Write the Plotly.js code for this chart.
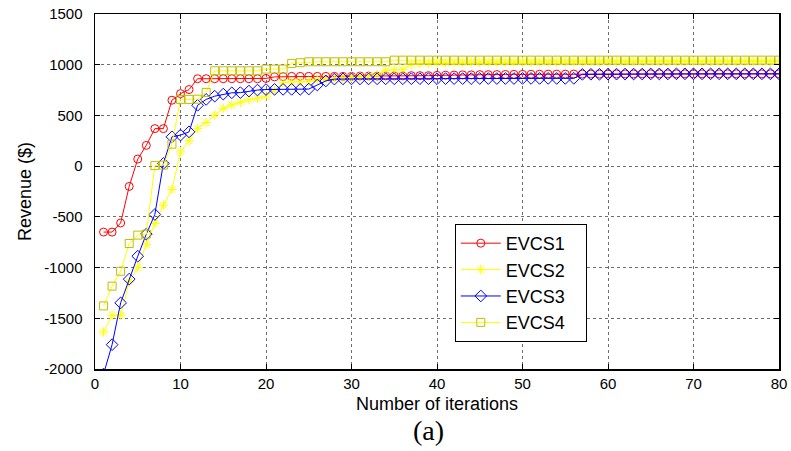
<!DOCTYPE html>
<html>
<head>
<meta charset="utf-8">
<script src="https://cdn.plot.ly/plotly-3.0.1.min.js"></script>
<style>
  html, body { margin: 0; padding: 0; background: #fff; }
  #chart { width: 791px; height: 451px; }
</style>
</head>
<body>
<div id="chart"></div>
<script>
// Revenue of each charging station over the iterations
const iterations = Array.from({length: 80}, (_, i) => i + 1);

const evcs1 = [-650,-650,-560,-200,70,205,370,370,650,715,755,862,862,862,862,862,862,862,862,865,
  880,882,885,885,885,885,885,885,885,885,888,888,888,890,890,890,892,892,892,895,
  897,898,900,900,902,902,903,904,905,905,906,906,907,907,907,908,908,908,908,909,
  909,909,909,910,910,910,910,910,910,910,910,910,910,910,910,910,910,910,910,910];

const evcs2 = [-1635,-1470,-1470,-1140,-1000,-770,-565,-385,-230,140,250,372,430,503,570,605,630,655,670,690,
  750,825,830,830,835,850,860,865,870,875,880,885,900,945,950,950,1005,1010,1015,1020,
  1020,1022,1022,1024,1024,1025,1025,1025,1026,1026,1026,1027,1027,1027,1028,1028,1028,1028,1029,1029,
  1029,1029,1029,1030,1030,1030,1030,1030,1030,1030,1030,1030,1030,1030,1030,1030,1030,1030,1030,1030];

const evcs3 = [-2050,-1760,-1348,-1114,-888,-670,-477,27,289,306,338,600,658,690,710,723,725,740,750,755,
  757,757,757,757,760,800,840,858,860,860,860,860,861,861,861,862,862,862,862,862,
  863,863,863,863,864,864,864,864,864,865,865,865,865,865,865,866,905,906,906,907,
  907,908,908,908,909,909,909,910,910,910,910,910,910,910,910,910,910,910,910,910];

const evcs4 = [-1378,-1183,-1036,-763,-680,-670,5,10,217,658,658,660,727,940,940,940,940,940,940,957,
  957,957,1013,1020,1029,1029,1029,1029,1029,1029,1029,1029,1029,1029,1045,1045,1045,1045,1045,1045,
  1045,1045,1045,1045,1045,1045,1045,1045,1045,1045,1045,1045,1045,1045,1045,1045,1045,1045,1045,1045,
  1045,1045,1045,1045,1045,1045,1045,1045,1045,1045,1045,1045,1045,1045,1045,1045,1045,1045,1045,1045];

const seriesNames = ['EVCS1', 'EVCS2', 'EVCS3', 'EVCS4'];
const xTicks = [0, 10, 20, 30, 40, 50, 60, 70, 80];
const yTicks = [-2000, -1500, -1000, -500, 0, 500, 1000, 1500];

const sans = 'Liberation Sans, Arial, sans-serif';
// trailing non-breaking spaces leave room on the right of the legend box
const pad = '\u00a0\u00a0\u00a0';

function series(name, y, lineColor, symbol, markerColor, size) {
  return {
    x: iterations, y: y, name: name + pad, type: 'scatter', mode: 'lines+markers',
    line: {color: lineColor, width: 1},
    marker: {symbol: symbol, size: size, color: markerColor,
             line: {color: markerColor, width: 1}},
    cliponaxis: true
  };
}

const traces = [
  series(seriesNames[0], evcs1, '#ff0000', 'circle-open', '#ff0000', 8),
  series(seriesNames[1], evcs2, '#ffff00', 'asterisk-open', '#ffff00', 8),
  series(seriesNames[2], evcs3, '#0000ff', 'diamond-open', '#0000ff', 9),
  series(seriesNames[3], evcs4, '#ffff00', 'square-open', '#bfbf00', 8)
];

const axisCommon = {
  showline: true, linecolor: '#000', linewidth: 1.5, mirror: 'ticks',
  ticks: 'inside', ticklen: 5, tickcolor: '#000', tickwidth: 1,
  showgrid: true, gridcolor: '#6e6e6e', griddash: 'dot', gridwidth: 1,
  zeroline: false, tickfont: {family: sans, size: 15, color: '#000'}
};

const layout = {
  width: 791, height: 451,
  paper_bgcolor: '#fff', plot_bgcolor: '#fff',
  margin: {l: 95, r: 12, t: 14, b: 82},
  showlegend: true,
  xaxis: Object.assign({}, axisCommon, {
    range: [0, 80], tickvals: xTicks, ticktext: xTicks.map(String),
    title: {text: 'Number of iterations', font: {family: sans, size: 18, color: '#000'}, standoff: 7}
  }),
  yaxis: Object.assign({}, axisCommon, {
    range: [-2000, 1500], tickvals: yTicks, ticktext: yTicks.map(String),
    ticklabelstandoff: 8,
    title: {text: 'Revenue ($)', font: {family: sans, size: 18, color: '#000'}, standoff: 8}
  }),
  legend: {
    x: 0.526, y: 0.4085, xanchor: 'left', yanchor: 'top',
    bgcolor: '#fff', bordercolor: '#000', borderwidth: 1,
    font: {family: sans, size: 18, color: '#000'},
    itemwidth: 40, tracegroupgap: 0
  },
  annotations: [
    {text: '(a)', xref: 'paper', yref: 'paper', x: 0.487, y: -0.174,
     xanchor: 'center', yanchor: 'middle', showarrow: false,
     font: {family: 'Liberation Serif, Times New Roman, serif', size: 28, color: '#000'}},
    {text: '-1000', xref: 'paper', yref: 'paper', x: -0.0073, y: -0.215,
     xanchor: 'right', yanchor: 'top', showarrow: false,
     font: {family: sans, size: 15, color: '#000'}}
  ]
};

Plotly.newPlot('chart', traces, layout, {displayModeBar: false, staticPlot: true});
</script>
</body>
</html>
